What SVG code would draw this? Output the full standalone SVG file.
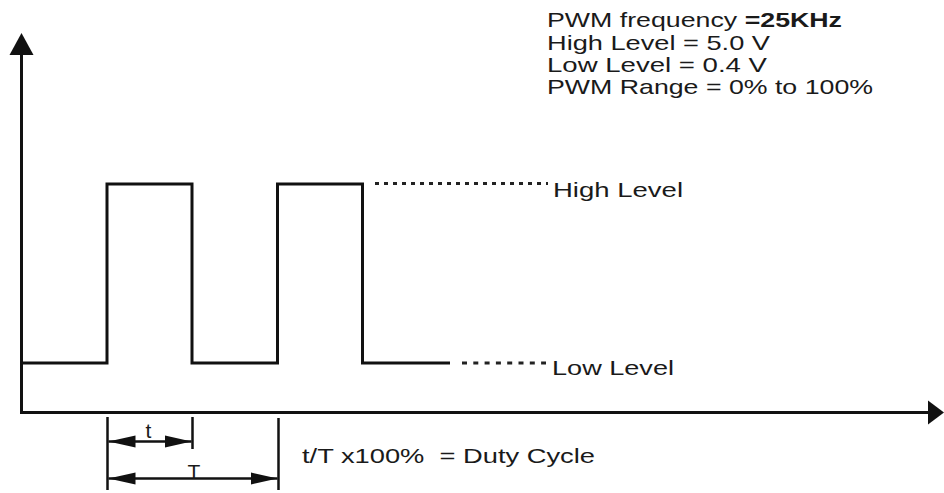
<svg xmlns="http://www.w3.org/2000/svg" width="944" height="493" viewBox="0 0 944 493">
<style>
.ln{fill:none;stroke:#111;stroke-width:3;stroke-linejoin:miter;stroke-linecap:butt}
.dim{fill:none;stroke:#111;stroke-width:2.5}
.dot{fill:none;stroke:#222;stroke-width:3}
.tx{font-family:"Liberation Sans",Arial,sans-serif;font-size:21px;fill:#1a1a1a}
</style>
<defs>
<marker id="dimA" markerUnits="userSpaceOnUse" markerWidth="28" markerHeight="14" refX="27" refY="7" orient="auto-start-reverse">
<path d="M0,1 L27,7 L0,13 Z" fill="#111"/>
</marker>
</defs>
<rect width="944" height="493" fill="#fff"/>
<g id="connectors">
<g id="axes">
<line class="ln" x1="21.5" y1="412.5" x2="21.5" y2="50"/>
<path d="M21.5,33 L9.5,55 L33.5,55 Z" fill="#111"/>
<line class="ln" x1="20" y1="412.5" x2="930" y2="412.5"/>
<path d="M944,412.5 L928,400.5 L928,424.5 Z" fill="#111"/>
</g>
<g id="waveform">
<polyline class="ln" points="21.5,363 107,363 107,184 192,184 192,363 277.5,363 277.5,184 362.5,184 362.5,363 450,363"/>
<line class="dot" x1="375" y1="183.5" x2="548" y2="183.5" stroke-dasharray="4,5"/>
<line class="dot" x1="462" y1="363" x2="546" y2="363" stroke-dasharray="5,6.3"/>
</g>
<g id="dimensions">
<line class="dim" x1="107.5" y1="417" x2="107.5" y2="490"/>
<line class="dim" x1="192.5" y1="417" x2="192.5" y2="449"/>
<line class="dim" x1="278.5" y1="418" x2="278.5" y2="490"/>
<line class="dim" x1="108.5" y1="441.5" x2="191.5" y2="441.5" marker-start="url(#dimA)" marker-end="url(#dimA)"/>
<line class="dim" x1="108.5" y1="478.5" x2="277.5" y2="478.5" marker-start="url(#dimA)" marker-end="url(#dimA)"/>
</g>
</g>
<g id="specs">
<text class="tx" x="547" y="27" textLength="295" lengthAdjust="spacingAndGlyphs">PWM frequency <tspan font-weight="bold">=25KHz</tspan></text>
<text class="tx" x="547" y="50" textLength="223" lengthAdjust="spacingAndGlyphs">High Level = 5.0 V</text>
<text class="tx" x="547" y="72" textLength="220" lengthAdjust="spacingAndGlyphs">Low Level = 0.4 V</text>
<text class="tx" x="547" y="94" textLength="326" lengthAdjust="spacingAndGlyphs">PWM Range = 0% to 100%</text>
</g>
<g id="high-label">
<text class="tx" x="553" y="197" textLength="130" lengthAdjust="spacingAndGlyphs">High Level</text>
</g>
<g id="low-label">
<text class="tx" x="552" y="375" textLength="122" lengthAdjust="spacingAndGlyphs">Low Level</text>
</g>
<g id="t-label">
<text class="tx" x="148.5" y="438" text-anchor="middle" font-size="22">t</text>
</g>
<g id="T-label">
<text class="tx" x="194" y="479" text-anchor="middle" font-size="28">T</text>
</g>
<g id="duty-cycle">
<text class="tx" x="302" y="463" font-size="22" textLength="293" lengthAdjust="spacingAndGlyphs" xml:space="preserve">t/T x100%  = Duty Cycle</text>
</g>
</svg>
